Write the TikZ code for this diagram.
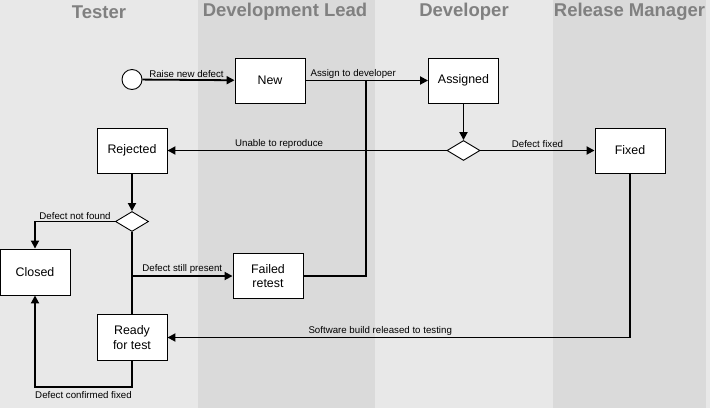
\documentclass[tikz,border=0pt]{standalone}
\usepackage{fontspec}
\setmainfont{Liberation Sans}
\usetikzlibrary{shapes.geometric,arrows.meta}
\definecolor{lanelight}{HTML}{E8E8E8}
\definecolor{lanedark}{HTML}{DADADA}
\definecolor{lanetext}{HTML}{808080}
\begin{document}
\begin{tikzpicture}[x=1pt,y=-1pt,>={Triangle[length=8pt,width=8pt]},
  state/.style={draw,fill=white,line width=0.9pt,minimum width=70pt,minimum height=45pt,inner sep=0pt,align=center,font=\fontsize{12.4}{14.5}\selectfont},
  choice/.style={draw,fill=white,line width=0.9pt,diamond,minimum width=33pt,minimum height=20pt,inner sep=0pt},
  flow/.style={line width=1.8pt},
  lbl/.style={font=\fontsize{9.7}{11}\selectfont,inner sep=1.5pt},
  lanehead/.style={font=\bfseries\fontsize{18.5}{20}\selectfont,text=lanetext}]
\useasboundingbox (0,0) rectangle (710,408);
\fill[lanelight] (0,0) rectangle (710,408);
\fill[lanedark] (198,0) rectangle (375,408);
\fill[lanedark] (553,0) rectangle (706,408);
\node[lanehead] (tester) at (99,12) {Tester};
\node[lanehead] (lead) at (285,12) {Development Lead};
\node[lanehead] (dev) at (464,12) {Developer};
\node[lanehead] (release) at (629.5,12) {Release Manager};

\node[draw,circle,fill=white,line width=0.9pt,minimum size=20pt,inner sep=0pt] (start) at (132,79.5) {};
\node[state] (new) at (270,80.5) {New};
\node[state] (assigned) at (463.5,80.5) {Assigned};
\node[choice] (fixcheck) at (463.5,150.5) {};
\node[state] (fixed) at (630,150.5) {Fixed};
\node[state] (rejected) at (132,150.5) {Rejected};
\node[choice] (retest) at (132,221.5) {};
\node[state,minimum height=46pt] (closed) at (35,272) {Closed};
\node[state] (failed) at (268,276) {Failed\\retest};
\node[state,minimum height=46pt] (ready) at (132,337.5) {Ready\\for test};
\coordinate (join) at (366,80.5);
\coordinate (split) at (132,276);
\coordinate (confirm) at (132,387);

\draw[flow,->] (start) -- node[lbl,above,xshift=-2pt]{Raise new defect} (new);
\draw[flow,->] (new) -- node[lbl,above,pos=0.39]{Assign to developer} (assigned);
\draw[flow,->] (assigned) -- (fixcheck);
\draw[flow,->] (fixcheck) -- node[lbl,above,yshift=1pt]{Defect fixed} (fixed);
\draw[flow,->] (fixcheck) -- node[lbl,above,pos=0.6]{Unable to reproduce} (rejected);
\draw[flow,->] (rejected) -- (retest);
\draw[flow,->] (retest) -| node[lbl,above,pos=0.25]{Defect not found} (closed);
\draw[flow] (retest) -- (ready);
\draw[flow,->] (split) -- node[lbl,above]{Defect still present} (failed);
\draw[flow] (failed) -| (join);
\draw[flow,->] (fixed) |- node[lbl,above,pos=0.77]{Software build released to testing} (ready);
\draw[flow,->] (ready) -- (confirm) -| node[lbl,below,pos=0.25,yshift=-2pt]{Defect confirmed fixed} (closed);
\end{tikzpicture}
\end{document}
